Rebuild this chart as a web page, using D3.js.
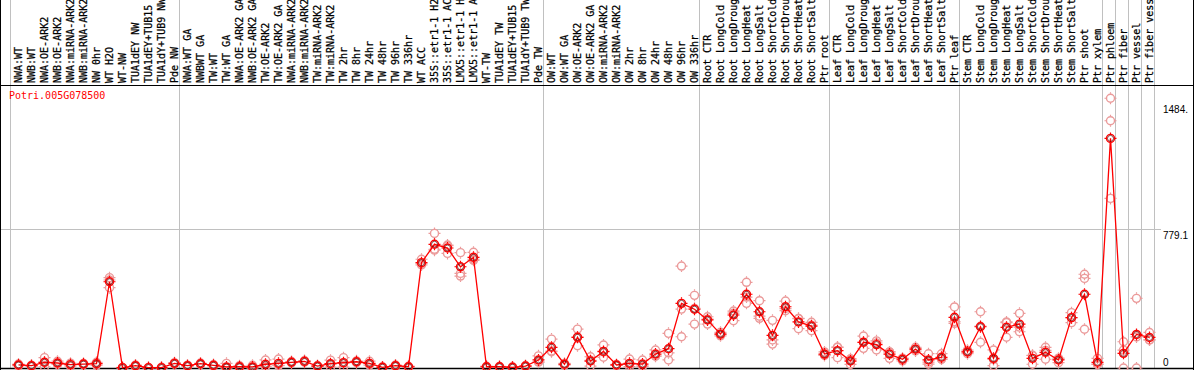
<!DOCTYPE html>
<html>
<head>
<meta charset="utf-8">
<script src="https://cdn.jsdelivr.net/npm/d3@7"></script>
<style>
html, body { margin: 0; padding: 0; background: #fff; }
svg { display: block; font-family: 'DejaVu Sans Mono', monospace; font-size: 10px; }
</style>
</head>
<body>
<svg id="chart" width="1194" height="370"></svg>
<script>
'use strict';

var geneId = 'Potri.005G078500';

var sampleLabels = [
    'NWA:WT', 'NWB:WT', 'NWA:OE-ARK2', 'NWB:OE-ARK2', 'NWA:miRNA-ARK2', 'NWB:miRNA-ARK2', 'NW 0hr',
    'WT H2O', 'WT-NW', 'TUA1dEY NW', 'TUA1dEY+TUB15', 'TUA1dY+TUB9 NW', 'Pde NW',
    'NWA:WT GA', 'NWBWT GA', 'TW:WT', 'TW:WT GA', 'NWA:OE-ARK2 GA', 'NWB:OE-ARK2 GA', 'TW:OE-ARK2',
    'TW:OE-ARK2 GA', 'NWA:miRNA-ARK2', 'NWB:miRNA-ARK2', 'TW:miRNA-ARK2', 'TW:miRNA-ARK2', 'TW 2hr',
    'TW 8hr', 'TW 24hr', 'TW 48hr', 'TW 96hr', 'TW 336hr', 'WT ACC', '35S::etr1-1 H2', '35S::etr1-1 AC',
    'LMX5::etr1-1 H', 'LMX5::etr1-1 A', 'WT-TW', 'TUA1dEY TW', 'TUA1dEY+TUB15', 'TUA1dY+TUB9 TW', 'Pde TW',
    'OW:WT', 'OW:WT GA', 'OW:OE-ARK2', 'OW:OE-ARK2 GA', 'OW:miRNA-ARK2', 'OW:miRNA-ARK2', 'OW 2hr',
    'OW 8hr', 'OW 24hr', 'OW 48hr', 'OW 96hr', 'OW 336hr',
    'Root CTR', 'Root LongCold', 'Root LongDroug', 'Root LongHeat', 'Root LongSalt', 'Root ShortCold',
    'Root ShortDrou', 'Root ShortHeat', 'Root ShortSalt', 'Ptr root',
    'Leaf CTR', 'Leaf LongCold', 'Leaf LongDroug', 'Leaf LongHeat', 'Leaf LongSalt', 'Leaf ShortCold',
    'Leaf ShortDrou', 'Leaf ShortHeat', 'Leaf ShortSalt', 'Ptr leaf',
    'Stem CTR', 'Stem LongCold', 'Stem LongDroug', 'Stem LongHeat', 'Stem LongSalt', 'Stem ShortCold',
    'Stem ShortDrou', 'Stem ShortHeat', 'Stem ShortSalt', 'Ptr shoot', 'Ptr xylem',
    'Ptr phloem', 'Ptr fiber', 'Ptr vessel', 'Ptr fiber vess'
];

// number of samples between the grey separators
var groupSizes = [13, 28, 12, 10, 10, 11, 1, 1, 1, 1];

var meanValues = [
    17, 13, 32, 28, 19, 22, 24, 483, 2, 13, 2, 2, 26,
    13, 24, 15, 6, 7, 6, 21, 26, 32, 37, 11, 24, 30, 35, 26, 4, 13, 7, 590, 693, 672, 567, 620, 7, 7, 4, 11, 45,
    116, 21, 172, 39, 93, 17, 26, 22, 78, 108, 362, 329,
    269, 190, 297, 413, 315, 183, 343, 258, 235, 78,
    97, 39, 144, 131, 78, 49, 106, 45, 60, 284,
    90, 231, 54, 228, 246, 54, 88, 45, 282, 413, 32,
    1286, 82, 188, 171
];

var replicateA = [
    22, 15, 58, 38, 27, 26, 32, 506, 3, 17, 3, 4, 30,
    16, 28, 19, 26, 13, 15, 45, 50, 36, 42, 14, 44, 58, 40, 38, 6, 17, 10, 609, 754, 689, 646, 648, 10, 9, 6, 14, 68,
    162, 26, 218, 63, 129, 20, 50, 45, 101, 194, 571, 407,
    287, 200, 319, 480, 377, 267, 375, 278, 256, 90,
    116, 45, 179, 140, 90, 55, 116, 80, 80, 342,
    100, 315, 101, 254, 306, 70, 116, 55, 310, 525, 54,
    1511, 147, 390, 199
];

var replicateB = [
    12, 10, 7, 20, 10, 18, 15, 450, 1, 9, 1, 1, 22,
    10, 20, 11, 0, 3, 2, 10, 15, 28, 32, 8, 5, 5, 30, 16, 2, 10, 4, 577, 665, 642, 530, 609, 4, 5, 2, 8, 35,
    91, 16, 125, 11, 60, 14, 8, 10, 66, 45, 330, 246,
    246, 180, 265, 362, 278, 157, 321, 220, 209, 70,
    58, 20, 110, 101, 54, 40, 95, 22, 50, 250,
    80, 144, 13, 172, 203, 21, 49, 30, 254, 502, 20,
    1385, 100, 0, 157
];

var replicateC = [
    17, 14, 31, 26, 20, 22, 25, 493, 2, 13, 2, 1, 26,
    13, 24, 15, 2, 5, 1, 8, 13, 32, 37, 11, 23, 27, 35, 24, 4, 12, 7, 584, 660, 685, 515, 603, 7, 7, 4, 11, 32,
    95, 21, 173, 43, 90, 17, 20, 11, 67, 85, 175, 334,
    274, 190, 307, 397, 290, 134, 333, 276, 240, 74,
    117, 52, 143, 152, 90, 52, 107, 33, 50, 260,
    90, 234, 48, 258, 229, 71, 99, 50, 282, 217, 22,
    950, 0, 174, 157
];

var tickValues = [0, 779.1, 1484.3];
var tickLabels = ['0', '779.1', '1484.'];

var svg = d3.select('#chart');
var width = 1194;
var headerY = 85;
var plotBottom = 368;

var x = d3.scaleBand()
    .domain(d3.range(sampleLabels.length))
    .range([11, 1155])
    .padding(0);

var y = d3.scaleLinear()
    .domain([0, 1484.3])
    .range([plotBottom, 103]);

function cx(i) {
    return x(i) + 7.5;
}

// separators between sample groups
var boundaries = [0];
groupSizes.reduce(function (acc, n) {
    boundaries.push(acc + n);
    return acc + n;
}, 0);

svg.append('g')
    .selectAll('line')
    .data(boundaries)
    .enter()
    .append('line')
    .attr('x1', function (k) { return (k < sampleLabels.length ? x(k) : x(k - 1) + x.bandwidth()) - 0.5; })
    .attr('x2', function (k) { return (k < sampleLabels.length ? x(k) : x(k - 1) + x.bandwidth()) - 0.5; })
    .attr('y1', 0)
    .attr('y2', plotBottom)
    .attr('stroke', '#c0c0c0')
    .attr('stroke-width', 1);

// mid gridline
svg.append('line')
    .attr('x1', 0)
    .attr('x2', 1161)
    .attr('y1', Math.round(y(tickValues[1])) + 0.5)
    .attr('y2', Math.round(y(tickValues[1])) + 0.5)
    .attr('stroke', '#c0c0c0')
    .attr('stroke-width', 1);

// frame
svg.append('line')
    .attr('x1', 0).attr('x2', width)
    .attr('y1', headerY + 0.5).attr('y2', headerY + 0.5)
    .attr('stroke', '#000');
svg.append('line')
    .attr('x1', 0).attr('x2', width)
    .attr('y1', plotBottom + 0.5).attr('y2', plotBottom + 0.5)
    .attr('stroke', '#000')
    .attr('stroke-width', 1.5);
svg.append('line')
    .attr('x1', 0.5).attr('x2', 0.5)
    .attr('y1', 0).attr('y2', 370)
    .attr('stroke', '#000');
svg.append('line')
    .attr('x1', width - 0.5).attr('x2', width - 0.5)
    .attr('y1', 0).attr('y2', 370)
    .attr('stroke', '#000');

// sample labels
svg.append('g')
    .selectAll('text')
    .data(sampleLabels)
    .enter()
    .append('text')
    .attr('transform', function (d, i) {
        return 'translate(' + (cx(i) + 3.5) + ',' + (headerY - 2) + ') rotate(-90)';
    })
    .attr('fill', '#000')
    .attr('stroke', '#000')
    .attr('stroke-width', 0.25)
    .text(function (d) { return d; });

// gene id
svg.append('text')
    .attr('x', 9)
    .attr('y', 99)
    .attr('fill', '#ff0000')
    .text(geneId);

// value axis on the right
var axis = d3.axisRight(y)
    .tickValues(tickValues)
    .tickFormat(function (d, i) { return tickLabels[i]; })
    .tickSize(0)
    .tickPadding(0);

var axisG = svg.append('g')
    .attr('transform', 'translate(1163,0)')
    .call(axis);
axisG.select('.domain').remove();
axisG.selectAll('text')
    .attr('font-family', null)
    .attr('font-size', null)
    .attr('fill', '#000')
    .attr('dy', function (d) { return d === 0 ? '-0.25em' : '0.95em'; });

function marker(g, color) {
    g.append('circle')
        .attr('r', 4)
        .attr('fill', 'none')
        .attr('stroke', color)
        .attr('stroke-width', 1.4);
    g.append('path')
        .attr('d', 'M0,-6V-4.5M0,4.5V6M-6,0H-4.5M4.5,0H6')
        .attr('stroke', color)
        .attr('stroke-width', 1.2);
}

// replicates
var reps = [];
[replicateA, replicateB, replicateC].forEach(function (arr) {
    arr.forEach(function (v, i) {
        reps.push({i: i, v: v});
    });
});

svg.append('g')
    .selectAll('g')
    .data(reps)
    .enter()
    .append('g')
    .attr('transform', function (d) { return 'translate(' + cx(d.i) + ',' + y(d.v) + ')'; })
    .each(function () { marker(d3.select(this), '#eb9a9a'); });

// mean line
var line = d3.line()
    .x(function (d, i) { return cx(i); })
    .y(function (d) { return y(d); });

svg.append('path')
    .datum(meanValues)
    .attr('d', line)
    .attr('fill', 'none')
    .attr('stroke', '#ff0000')
    .attr('stroke-width', 1.3);

var means = svg.append('g')
    .selectAll('g')
    .data(meanValues)
    .enter()
    .append('g')
    .attr('transform', function (d, i) { return 'translate(' + cx(i) + ',' + y(d) + ')'; });

means.each(function () { marker(d3.select(this), '#ff0000'); });
means.append('circle')
    .attr('r', 3)
    .attr('fill', 'none')
    .attr('stroke', '#5a0000')
    .attr('stroke-width', 0.7);
</script>
</body>
</html>
